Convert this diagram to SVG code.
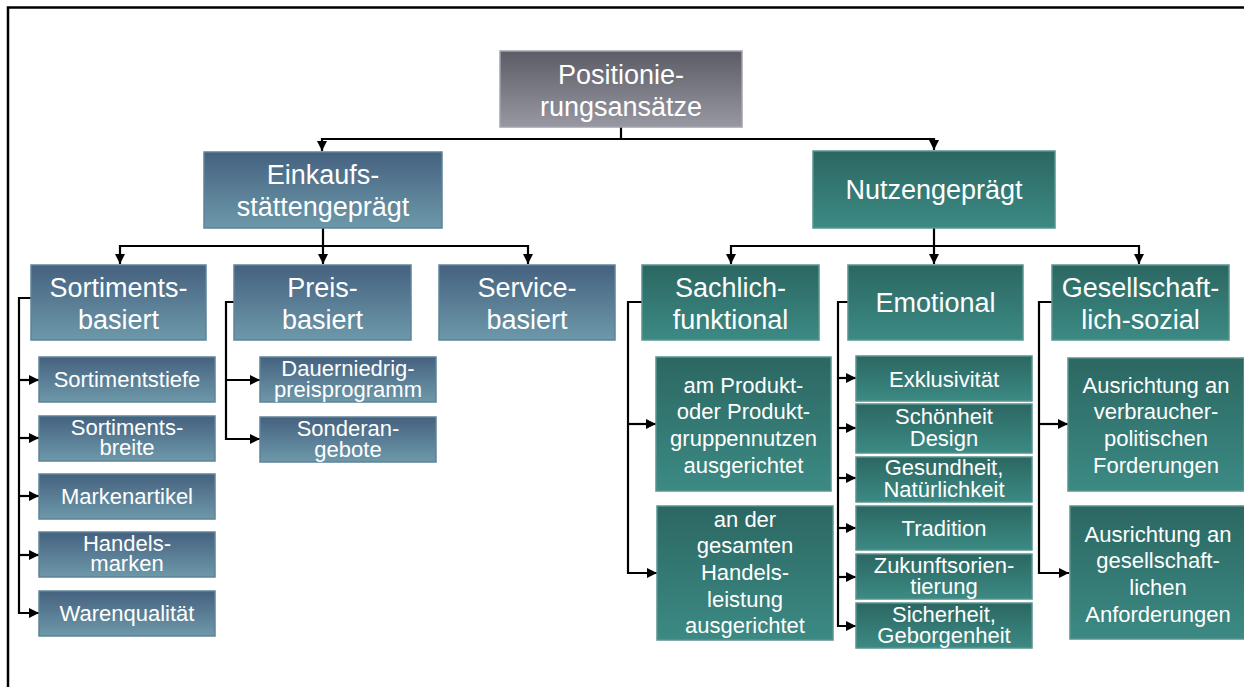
<svg xmlns="http://www.w3.org/2000/svg" width="1244" height="687" viewBox="0 0 1244 687">
<defs>
<linearGradient id="gGray" x1="0" y1="0" x2="0" y2="1"><stop offset="0" stop-color="#5c5c67"/><stop offset="1" stop-color="#9898a3"/></linearGradient>
<linearGradient id="gBlue" x1="0" y1="0" x2="0" y2="1"><stop offset="0" stop-color="#45617f"/><stop offset="1" stop-color="#6d99aa"/></linearGradient>
<linearGradient id="gTeal" x1="0" y1="0" x2="0" y2="1"><stop offset="0" stop-color="#2c6762"/><stop offset="1" stop-color="#3c8a84"/></linearGradient>
<marker id="arr" markerUnits="userSpaceOnUse" markerWidth="11" markerHeight="11" refX="10" refY="5" orient="auto"><path d="M0,0 L10,5 L0,10 z" fill="#000"/></marker>
<style>
.gray{fill:url(#gGray);stroke:#a2a2ac;stroke-width:1.5}
.blue{fill:url(#gBlue);stroke:#5f8299;stroke-width:1.5}
.teal{fill:url(#gTeal);stroke:#58948e;stroke-width:1.5}
text{font-family:"Liberation Sans",Arial,sans-serif;fill:#fff;text-anchor:middle}
.l{font-size:27px}
.s{font-size:22px}
.c{fill:none;stroke:#000;stroke-width:2.2}
.ca{fill:none;stroke:#000;stroke-width:2.2;marker-end:url(#arr)}
</style>
</defs>
<path d="M8,687 V7.5 H1244" fill="none" stroke="#000" stroke-width="2.5"/>
<g id="connectors">
<path class="ca" d="M621,127 V139 H322 V151"/>
<path class="ca" d="M621,139 H934 V150"/>
<path class="ca" d="M323,228 V246 H120 V264"/>
<path class="ca" d="M323,246 V264"/>
<path class="ca" d="M323,246 H528 V264"/>
<path class="ca" d="M934,228 V246 H731 V264"/>
<path class="ca" d="M934,246 V264"/>
<path class="ca" d="M934,246 H1139 V264"/>
<path class="ca" d="M31,298 H19 V613 H39"/>
<path class="ca" d="M19,380 H39"/>
<path class="ca" d="M19,438 H39"/>
<path class="ca" d="M19,496 H39"/>
<path class="ca" d="M19,555 H39"/>
<path class="ca" d="M234,302 H226 V439 H260"/>
<path class="ca" d="M226,380 H260"/>
<path class="ca" d="M642,302 H628 V573 H657"/>
<path class="ca" d="M628,424 H656"/>
<path class="ca" d="M848,302 H838 V626 H856"/>
<path class="ca" d="M838,378 H856"/>
<path class="ca" d="M838,428 H856"/>
<path class="ca" d="M838,478 H856"/>
<path class="ca" d="M838,528 H856"/>
<path class="ca" d="M838,577 H856"/>
<path class="ca" d="M1052,302 H1039 V573 H1069"/>
<path class="ca" d="M1039,424 H1068"/>
</g>
<g id="n-root"><rect class="gray" x="500" y="51" width="242" height="76"/><text class="l" x="621" y="84">Positionie-</text><text class="l" x="621" y="116">rungsansätze</text></g>
<g id="n-einkauf"><rect class="blue" x="204" y="152" width="238" height="76"/><text class="l" x="323" y="184">Einkaufs-</text><text class="l" x="323" y="216">stättengeprägt</text></g>
<g id="n-nutzen"><rect class="teal" x="813" y="151" width="242" height="77"/><text class="l" x="934" y="199">Nutzengeprägt</text></g>
<g id="n-sortiment"><rect class="blue" x="31" y="265" width="175" height="75"/><text class="l" x="118.5" y="297">Sortiments-</text><text class="l" x="118.5" y="329">basiert</text></g>
<g id="n-preis"><rect class="blue" x="234" y="265" width="177" height="75"/><text class="l" x="322.5" y="297">Preis-</text><text class="l" x="322.5" y="329">basiert</text></g>
<g id="n-service"><rect class="blue" x="439" y="265" width="176" height="75"/><text class="l" x="527" y="297">Service-</text><text class="l" x="527" y="329">basiert</text></g>
<g id="n-sachlich"><rect class="teal" x="642" y="265" width="177" height="75"/><text class="l" x="730.5" y="297">Sachlich-</text><text class="l" x="730.5" y="329">funktional</text></g>
<g id="n-emotional"><rect class="teal" x="848" y="265" width="175" height="75"/><text class="l" x="935.5" y="312">Emotional</text></g>
<g id="n-gesell"><rect class="teal" x="1052" y="265" width="177" height="75"/><text class="l" x="1140.5" y="297">Gesellschaft-</text><text class="l" x="1140.5" y="329">lich-sozial</text></g>
<g id="n-tiefe"><rect class="blue" x="39" y="357" width="176" height="45"/><text class="s" x="127" y="387">Sortimentstiefe</text></g>
<g id="n-breite"><rect class="blue" x="39" y="416" width="176" height="45"/><text class="s" x="127" y="435">Sortiments-</text><text class="s" x="127" y="455">breite</text></g>
<g id="n-marken"><rect class="blue" x="39" y="474" width="176" height="45"/><text class="s" x="127" y="504">Markenartikel</text></g>
<g id="n-handelsmarken"><rect class="blue" x="39" y="532" width="176" height="45"/><text class="s" x="127" y="551">Handels-</text><text class="s" x="127" y="571">marken</text></g>
<g id="n-qualitaet"><rect class="blue" x="39" y="591" width="176" height="45"/><text class="s" x="127" y="621">Warenqualität</text></g>
<g id="n-dauer"><rect class="blue" x="260" y="357" width="176" height="45"/><text class="s" x="348" y="376">Dauerniedrig-</text><text class="s" x="348" y="397">preisprogramm</text></g>
<g id="n-sonder"><rect class="blue" x="260" y="417" width="176" height="45"/><text class="s" x="348" y="436">Sonderan-</text><text class="s" x="348" y="457">gebote</text></g>
<g id="n-produkt"><rect class="teal" x="656" y="357" width="175" height="134"/><text class="s" x="743.5" y="393">am Produkt-</text><text class="s" x="743.5" y="419">oder Produkt-</text><text class="s" x="743.5" y="446">gruppennutzen</text><text class="s" x="743.5" y="473">ausgerichtet</text></g>
<g id="n-handelsleistung"><rect class="teal" x="657" y="506" width="176" height="134"/><text class="s" x="745" y="527">an der</text><text class="s" x="745" y="553">gesamten</text><text class="s" x="745" y="580">Handels-</text><text class="s" x="745" y="607">leistung</text><text class="s" x="745" y="633">ausgerichtet</text></g>
<g id="n-exkl"><rect class="teal" x="856" y="356" width="176" height="45"/><text class="s" x="944" y="387">Exklusivität</text></g>
<g id="n-schoen"><rect class="teal" x="856" y="404" width="176" height="49"/><text class="s" x="944" y="424">Schönheit</text><text class="s" x="944" y="446">Design</text></g>
<g id="n-gesund"><rect class="teal" x="856" y="457" width="176" height="45"/><text class="s" x="944" y="475">Gesundheit,</text><text class="s" x="944" y="497">Natürlichkeit</text></g>
<g id="n-tradition"><rect class="teal" x="856" y="506" width="176" height="44"/><text class="s" x="944" y="536">Tradition</text></g>
<g id="n-zukunft"><rect class="teal" x="856" y="554" width="176" height="45"/><text class="s" x="944" y="573">Zukunftsorien-</text><text class="s" x="944" y="594">tierung</text></g>
<g id="n-sicher"><rect class="teal" x="856" y="603" width="176" height="45"/><text class="s" x="944" y="622">Sicherheit,</text><text class="s" x="944" y="643">Geborgenheit</text></g>
<g id="n-verbraucher"><rect class="teal" x="1068" y="358" width="176" height="133"/><text class="s" x="1156" y="393">Ausrichtung an</text><text class="s" x="1156" y="419">verbraucher-</text><text class="s" x="1156" y="446">politischen</text><text class="s" x="1156" y="473">Forderungen</text></g>
<g id="n-gesellschaftlich"><rect class="teal" x="1070" y="506" width="176" height="133"/><text class="s" x="1158" y="542">Ausrichtung an</text><text class="s" x="1158" y="568">gesellschaft-</text><text class="s" x="1158" y="595">lichen</text><text class="s" x="1158" y="622">Anforderungen</text></g>
</svg>
